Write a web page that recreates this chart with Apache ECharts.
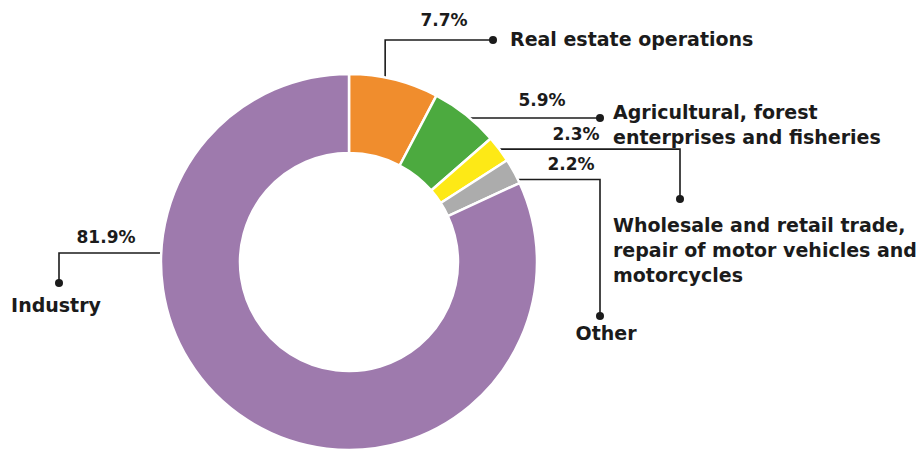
<!DOCTYPE html>
<html>
<head>
<meta charset="utf-8">
<script src="https://cdn.jsdelivr.net/npm/echarts@6/dist/echarts.min.js"></script>
<style>
  html, body { margin: 0; padding: 0; background: #ffffff; }
  #chart { width: 918px; height: 449px; }
</style>
</head>
<body>
<div id="chart"></div>
<script>
// Sectors and their shares (%)
const categories = [
  'Real estate operations',
  'Agricultural, forest\nenterprises and fisheries',
  'Wholesale and retail trade,\nrepair of motor vehicles and\nmotorcycles',
  'Other',
  'Industry'
];
const shares = [7.7, 5.9, 2.3, 2.2, 81.9];
const sliceColors = ['#f08d2d', '#4caa3f', '#fde916', '#acacac', '#9e7aad'];

const INK = '#1b1b1b';
const FONT = '"DejaVu Sans", sans-serif';

// Callout layout for each slice: where the leader leaves the slice (fraction of its arc),
// how the leader runs, and where the percentage and the name sit.
const callouts = [
  { along: 0.40, route: a => [a, [a[0], 40], [493, 40]],
    pct: { x: 444, y: 20, align: 'center' },
    name: { x: 510, y: 39, align: 'left', verticalAlign: 'middle' } },
  { along: 0.58, route: a => [a, [600, a[1]]],
    pct: { x: 542, y: 100, align: 'center' },
    name: { x: 613, y: 99, align: 'left', verticalAlign: 'top' } },
  { along: 0.50, route: a => [a, [680, a[1]], [680, 199]],
    pct: { x: 576, y: 134, align: 'center' },
    name: { x: 613, y: 212, align: 'left', verticalAlign: 'top' } },
  { along: 0.85, route: a => [a, [600, a[1]], [600, 316]],
    pct: { x: 571, y: 164, align: 'center' },
    name: { x: 606, y: 333, align: 'center', verticalAlign: 'middle' } },
  { along: 0.704, route: a => [a, [59, a[1]], [59, 283]],
    pct: { x: 106, y: 237, align: 'center' },
    name: { x: 56, y: 305, align: 'center', verticalAlign: 'middle' } }
];

const chart = echarts.init(document.getElementById('chart'), null, { renderer: 'svg' });

// Point on the outer arc of slice i, taken from the pie's own layout
function anchorPoint(i) {
  const lay = chart.getModel().getSeriesByIndex(0).getData().getItemLayout(i);
  const t = callouts[i].along;
  const ang = lay.startAngle + (lay.endAngle - lay.startAngle) * t;
  return [lay.cx + lay.r * Math.cos(ang), lay.cy + lay.r * Math.sin(ang)];
}

const sliceData = categories.map((name, i) => ({
  name: name,
  value: shares[i],
  itemStyle: { color: sliceColors[i] }
}));
const ghostData = categories.map((name, i) => ({ name: name, value: shares[i] }));

const ring = {
  center: [349, 262],
  radius: [109, 188],
  startAngle: 90,
  clockwise: true,
  avoidLabelOverlap: false
};

const pctStyle = { fontFamily: FONT, fontWeight: 700, fontSize: 17, color: INK };
const nameStyle = { fontFamily: FONT, fontWeight: 700, fontSize: 19, color: INK, lineHeight: 25 };

const ghost = Object.assign({}, ring, {
  type: 'pie',
  silent: true,
  data: ghostData,
  itemStyle: { color: 'rgba(0,0,0,0)', borderWidth: 0 },
  emphasis: { disabled: true },
  labelLine: { show: false }
});

chart.setOption({
  animation: false,
  backgroundColor: '#ffffff',
  series: [
    // the ring itself; its labels are the end dots of the leaders
    Object.assign({}, ring, {
      type: 'pie',
      silent: true,
      data: sliceData,
      itemStyle: { borderColor: '#ffffff', borderWidth: 2.5 },
      emphasis: { disabled: true },
      label: {
        show: true,
        position: 'outside',
        formatter: '{dot|}',
        rich: {
          dot: { width: 8, height: 8, lineHeight: 8, borderRadius: 4, backgroundColor: INK }
        }
      },
      labelLine: {
        show: true,
        smooth: false,
        lineStyle: { color: INK, width: 1.6 }
      },
      labelLayout: function (params) {
        const i = params.dataIndex;
        const pts = callouts[i].route(anchorPoint(i));
        const end = pts[pts.length - 1];
        return {
          x: end[0],
          y: end[1],
          align: 'center',
          verticalAlign: 'middle',
          labelLinePoints: pts
        };
      }
    }),
    // percentage labels
    Object.assign({}, ghost, {
      label: Object.assign({
        show: true,
        position: 'outside',
        formatter: '{c}%'
      }, pctStyle),
      labelLayout: function (params) {
        const p = callouts[params.dataIndex].pct;
        return { x: p.x, y: p.y, align: p.align, verticalAlign: 'middle' };
      }
    }),
    // sector names
    Object.assign({}, ghost, {
      label: Object.assign({
        show: true,
        position: 'outside',
        formatter: '{b}'
      }, nameStyle),
      labelLayout: function (params) {
        const n = callouts[params.dataIndex].name;
        return { x: n.x, y: n.y, align: n.align, verticalAlign: n.verticalAlign };
      }
    })
  ]
});
</script>
</body>
</html>
